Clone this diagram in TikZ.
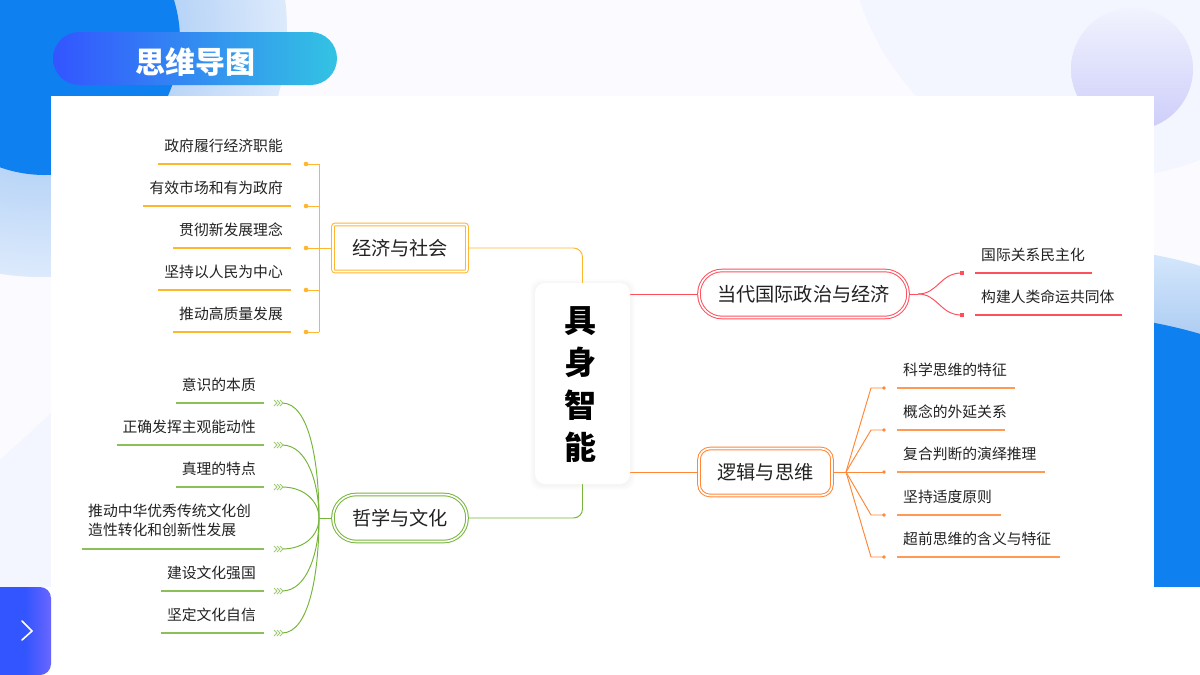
\documentclass[tikz,border=0pt]{standalone}
\usepackage{fontspec}
\setmainfont{Noto Sans CJK SC}
\usetikzlibrary{backgrounds}
\definecolor{ylw}{HTML}{FFB52E}
\definecolor{grn}{HTML}{76B53A}
\definecolor{rdd}{HTML}{FF4F5C}
\definecolor{org}{HTML}{FF8736}
\definecolor{blu}{HTML}{0F80F0}
\definecolor{txt}{HTML}{222222}
\definecolor{bgA}{HTML}{FBFAFF}
\definecolor{bgB}{HTML}{F3F6FF}
\definecolor{ltA}{HTML}{B4D2F6}
\definecolor{ltB}{HTML}{DDEAFC}
\definecolor{rtA}{HTML}{D6E8FC}
\definecolor{rtB}{HTML}{AECDF3}
\definecolor{pillA}{HTML}{3355FF}
\definecolor{pillB}{HTML}{33C3E3}
\definecolor{vioB}{HTML}{6A66FF}
\definecolor{lilA}{HTML}{F1F3FE}
\definecolor{lilB}{HTML}{CDCDFA}
\pgfdeclareradialshading{lightrad}{\pgfpoint{0bp}{0bp}}{color(0bp)=(ltA); color(13bp)=(ltA); color(25bp)=(ltB); color(50bp)=(ltB)}
\tikzset{
  leaf/.style={font=\fontsize{14.8}{19.5}\selectfont,text=txt,inner sep=0pt,align=left},
  branch/.style={font=\fontsize{19.2}{24}\selectfont,text=txt,fill=white,draw=#1,double=white,double distance=1.6pt,line width=1pt,inner sep=0pt,minimum height=47pt},
  conn/.style={draw=#1,line width=.95pt},
  uline/.style={draw=#1,line width=1.05pt},
  chev/.style={draw=grn!70,line width=.9pt}
}
\begin{document}
\begin{tikzpicture}[x=1pt,y=-1pt]
\useasboundingbox (0,0) rectangle (1200,675);
\begin{pgfonlayer}{background}
\begin{scope}
\clip (0,0) rectangle (1200,675);
\fill[white] (0,0) rectangle (1200,675);
\fill[bgA] (0,0) rectangle (1200,587);
\fill[bgB] (1105,-80) circle[radius=258pt];
\fill[bgB] (0,460) -- (51,413) -- (51,587) -- (0,587) -- cycle;
% top-left circles
\shade[shading=lightrad] (40,30) circle[radius=247pt];
\fill[blu] (45,40) circle[radius=135pt];
% lilac circle
\shade[top color=lilA,bottom color=lilB] (1132,69) circle[radius=61pt];
% right blue
\begin{scope}
\clip (1154,200) rectangle (1200,587);
\begin{scope}
\clip (1060,746) circle[radius=500pt];
\shade[top color=rtA,bottom color=rtB] (1154,250) rectangle (1200,336);
\end{scope}
\fill[blu] (1060,814) circle[radius=500pt];
\end{scope}
\fill[white] (0,587) rectangle (1200,675);
% white panel
\fill[white] (51,96) rectangle (1154,675);
% left bottom tab
\shade[left color=pillA,right color=vioB,middle color=pillA,rounded corners=11pt] (0,587) rectangle (51,675);
\fill[pillA] (0,587) rectangle (25.5,675);
\end{scope}
\foreach \d in {5,4,3,2,1}{
  \fill[black,opacity=.007,rounded corners=10pt] (535-\d,283-\d+1) rectangle (630+\d,484+\d+1);
}
\end{pgfonlayer}

% chevron on tab
\coordinate (cha) at (22,621);
\coordinate (chb) at (32,631);
\coordinate (chc) at (22,640);
\draw[white,line width=1.6pt,line cap=round,line join=miter] (cha) -- (chb) -- (chc);

% title
\shade[left color=pillA,right color=pillB,rounded corners=26.5pt] (53,32) rectangle (337,85);
\node[font=\fontsize{30}{34}\selectfont\bfseries,text=white,inner sep=0pt] (title) at (195,62.5) {思维导图};

% root
\node[fill=white,rounded corners=10pt,minimum width=95pt,minimum height=201pt,inner sep=0pt] (root) at (582.5,383.5) {};
\node[font=\fontsize{32}{42.2}\selectfont\bfseries,text=black,align=center,inner sep=0pt] (roottext) at (580.3,384.5) {具\\身\\智\\能};

% branches
\node[branch=ylw,rounded corners=2pt,minimum width=134pt] (econ) at (400,248) {经济与社会};
\node[branch=grn,rounded corners=23pt,minimum width=134pt] (phil) at (400,518) {哲学与文化};
\node[branch=rdd,rounded corners=23pt,minimum width=209pt] (intl) at (803.5,294) {当代国际政治与经济};
\node[branch=org,rounded corners=11pt,minimum width=133pt] (logic) at (765.5,472) {逻辑与思维};

% yellow leaves
\foreach \n/\s/\y/\t in {1/158/164/政府履行经济职能,2/143/206/有效市场和有为政府,3/173/248/贯彻新发展理念,4/158/290/坚持以人民为中心,5/173/332/推动高质量发展}{
  \node[leaf,anchor=east] (yt\n) at (283,\y-18) {\t};
  \coordinate (ys\n) at (\s,\y);
  \coordinate (ye\n) at (291,\y);
  \coordinate (yd\n) at (306,\y);
  \coordinate (yb\n) at (319,\y);
  \draw[uline=ylw] (ys\n) -- (ye\n);
  \fill[ylw] (yd\n) circle[radius=2.3pt];
  \draw[conn=ylw] (yd\n) -- (yb\n);
}
\begin{pgfonlayer}{background}
\draw[conn=ylw,line cap=rect] (yb1) -- (yb5);
\draw[conn=ylw] (yb3) -- (econ.west);
\coordinate (econc) at (582.5,248);
\draw[conn=ylw,rounded corners=9pt] (econ.east) -- (econc) -- (root.north -| econc);
\end{pgfonlayer}

% green leaves
\coordinate (ghub) at (319,518);
\foreach \n/\s/\y/\ty/\t in {1/176/403/384.5/意识的本质,2/117/445/426.5/正确发挥主观能动性,3/176/487/468.5/真理的特点,5/161/591/572.5/建设文化强国,6/161/633/615/坚定文化自信}{
  \node[leaf,anchor=east] (gt\n) at (256,\ty) {\t};
}
\node[leaf,anchor=west] (gt4) at (88,520.5) {推动中华优秀传统文化创\\造性转化和创新性发展};
\foreach \n/\s/\y in {1/176/403,2/117/445,3/176/487,4/82/549,5/161/591,6/161/633}{
  \coordinate (gs\n) at (\s,\y);
  \coordinate (ge\n) at (264,\y);
  \coordinate (ga\n) at (282,\y);
  \draw[uline=grn!85] (gs\n) -- (ge\n);
  \draw[chev] (274,\y-3) -- (277,\y) -- (274,\y+3) (277,\y-3) -- (280,\y) -- (277,\y+3) (280,\y-3) -- (283,\y) -- (280,\y+3);
}
\begin{pgfonlayer}{background}
\draw[conn=grn] (ga1) .. controls (310,403) and (319,465) .. (ghub);
\draw[conn=grn] (ga2) .. controls (308,445) and (319,485) .. (ghub);
\draw[conn=grn] (ga3) .. controls (305,487) and (319,502) .. (ghub);
\draw[conn=grn] (ga4) .. controls (305,549) and (319,535) .. (ghub);
\draw[conn=grn] (ga5) .. controls (308,591) and (319,550) .. (ghub);
\draw[conn=grn] (ga6) .. controls (310,633) and (319,570) .. (ghub);
\draw[conn=grn] (ghub) -- (phil.west);
\coordinate (philc) at (582.5,518);
\draw[conn=grn,rounded corners=9pt] (phil.east) -- (philc) -- (root.south -| philc);
\end{pgfonlayer}

% red leaves
\node[leaf,anchor=west] (rt1) at (981,255) {国际关系民主化};
\node[leaf,anchor=west] (rt2) at (981,297) {构建人类命运共同体};
\coordinate (rs1) at (975,273); \coordinate (re1) at (1092,273);
\coordinate (rs2) at (975,315); \coordinate (re2) at (1122,315);
\coordinate (rd1) at (961.5,273); \coordinate (rd2) at (961.5,315);
\coordinate (rhub) at (918,294);
\draw[uline=rdd] (rs1) -- (re1);
\draw[uline=rdd] (rs2) -- (re2);
\fill[rdd] (959.5,271) rectangle (963.5,275);
\fill[rdd] (959.5,313) rectangle (963.5,317);
\begin{pgfonlayer}{background}
\draw[conn=rdd] (root.east |- intl) -- (intl.west);
\draw[conn=rdd] (intl.east) -- (rhub);
\draw[conn=rdd] (rhub) .. controls (938,294) and (940,273) .. (rd1);
\draw[conn=rdd] (rhub) .. controls (938,294) and (940,315) .. (rd2);
\end{pgfonlayer}

% orange leaves
\foreach \n/\e/\y/\t in {1/1015/388/科学思维的特征,2/1005/430/概念的外延关系,3/1045/472/复合判断的演绎推理,4/1001/515/坚持适度原则,5/1060/557/超前思维的含义与特征}{
  \node[leaf,anchor=west] (ot\n) at (903,\y-18) {\t};
  \coordinate (os\n) at (897,\y);
  \coordinate (oe\n) at (\e,\y);
  \coordinate (od\n) at (884,\y);
  \coordinate (ok\n) at (871,\y);
  \draw[uline=org!85] (os\n) -- (oe\n);
  \fill[org] (od\n) circle[radius=1.9pt];
}
\coordinate (ohub) at (846,472);
\begin{pgfonlayer}{background}
\draw[conn=org] (root.east |- logic) -- (logic.west);
\draw[conn=org] (logic.east) -- (ohub);
\draw[conn=org,line join=round] (ohub) -- (ok1) -- (od1);
\draw[conn=org,line join=round] (ohub) -- (ok2) -- (od2);
\draw[conn=org] (ohub) -- (od3);
\draw[conn=org,line join=round] (ohub) -- (ok4) -- (od4);
\draw[conn=org,line join=round] (ohub) -- (ok5) -- (od5);
\end{pgfonlayer}
\end{tikzpicture}
\end{document}
